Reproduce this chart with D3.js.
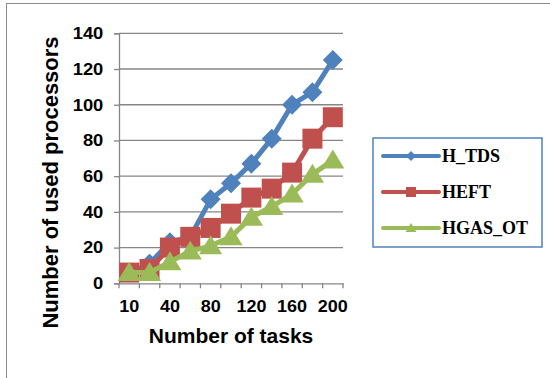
<!DOCTYPE html>
<html><head><meta charset="utf-8">
<script src="https://cdn.jsdelivr.net/npm/d3@7"></script>
<style>body{margin:0;background:#fff}svg{display:block}</style>
</head><body>
<script>
const categories = ["10","20","40","60","80","100","120","140","160","180","200"];
const shownLabels = ["10","40","80","120","160","200"];
const hTDS   = [6, 11, 23, 26, 47, 56, 67, 81, 100, 107, 125];
const heft   = [6, 8, 20, 26, 31, 39, 48, 53, 62, 81, 93];
const hgasOT = [6, 6, 12, 18, 21, 26, 37, 43, 50, 61, 69];
const yTicks = [0, 20, 40, 60, 80, 100, 120, 140];
const seriesNames = ["H_TDS", "HEFT", "HGAS_OT"];
const seriesColors = ["#4F81BD", "#C0504D", "#9BBB59"];
const seriesShapes = ["diamond", "square", "triangle"];
const seriesData = [hTDS, heft, hgasOT];

const W = 550, H = 378;
const svg = d3.select("body").append("svg").attr("width", W).attr("height", H);
svg.append("rect").attr("x", 6.5).attr("y", 3.5).attr("width", 560).attr("height", 400)
  .attr("fill", "#fff").attr("stroke", "#8c8c8c").attr("stroke-width", 1);

const x = d3.scaleBand().domain(categories).range([119, 343]);
const y = d3.scaleLinear().domain([0, 140]).range([283.3, 33.3]);

// gridlines
svg.append("g").selectAll("line").data(yTicks.filter(d => d > 0)).join("line")
  .attr("x1", 119).attr("x2", 343).attr("y1", d => y(d)).attr("y2", d => y(d))
  .attr("stroke", "#868686").attr("stroke-width", 1.3);

// y axis
const yAxis = svg.append("g").attr("transform", "translate(119,0)")
  .call(d3.axisLeft(y).tickValues(yTicks).tickSize(5).tickPadding(10.7));
yAxis.select(".domain").attr("stroke", "#868686").attr("stroke-width", 1.3);
yAxis.selectAll(".tick line").attr("stroke", "#868686").attr("stroke-width", 1.3);
yAxis.selectAll("text").attr("font-family", "Liberation Sans, Arial, sans-serif")
  .attr("font-weight", "bold").attr("font-size", "16.5px").attr("fill", "#000")
  .attr("textLength", d => String(d).length * 10.2).attr("lengthAdjust", "spacingAndGlyphs");

// x axis
const xAxis = svg.append("g").attr("transform", `translate(0,${y(0)})`)
  .call(d3.axisBottom(x).tickSize(0).tickPadding(17)
    .tickFormat(d => shownLabels.includes(d) ? d : ""));
xAxis.select(".domain").attr("stroke", "#868686").attr("stroke-width", 1.3);
xAxis.selectAll("text").attr("font-family", "Liberation Sans, Arial, sans-serif")
  .attr("font-weight", "bold").attr("font-size", "16.5px").attr("fill", "#000")
  .attr("textLength", d => shownLabels.includes(d) ? d.length * 10 : null)
  .attr("lengthAdjust", "spacingAndGlyphs");
// boundary ticks
const bounds = categories.map(c => x(c)).concat([x.range()[1]]);
svg.append("g").selectAll("line").data(bounds).join("line")
  .attr("x1", d => d).attr("x2", d => d).attr("y1", y(0)).attr("y2", y(0) + 5)
  .attr("stroke", "#868686").attr("stroke-width", 1.3);

// axis titles
svg.append("text").attr("x", 231).attr("y", 343).attr("text-anchor", "middle")
  .attr("font-family", "Liberation Sans, Arial, sans-serif").attr("font-weight", "bold")
  .attr("font-size", "21px").text("Number of tasks");
svg.append("text").attr("transform", "translate(58,182.5) rotate(-90)").attr("text-anchor", "middle")
  .attr("font-family", "Liberation Sans, Arial, sans-serif").attr("font-weight", "bold")
  .attr("font-size", "22px").text("Number of used processors");

function markerPath(shape, s) {
  if (shape === "diamond") return `M0,${-s}L${s},0L0,${s}L${-s},0Z`;
  if (shape === "square") return `M${-s},${-s}H${s}V${s}H${-s}Z`;
  return `M0,${-s}L${s*1.1},${s*0.8}L${-s*1.1},${s*0.8}Z`;
}
const cx = d => x(d) + x.bandwidth() / 2;

seriesData.forEach((data, i) => {
  const g = svg.append("g");
  const line = d3.line().x((d, j) => cx(categories[j])).y(d => y(d));
  g.append("path").attr("d", line(data)).attr("fill", "none")
    .attr("stroke", seriesColors[i]).attr("stroke-width", 5).attr("stroke-linejoin", "round");
  const sz = seriesShapes[i] === "diamond" ? 10 : (seriesShapes[i] === "square" ? 10 : 10.5);
  g.selectAll("path.m").data(data).join("path").attr("class", "m")
    .attr("transform", (d, j) => `translate(${cx(categories[j])},${y(d)})`)
    .attr("d", markerPath(seriesShapes[i], sz)).attr("fill", seriesColors[i]);
});

// legend
const lg = svg.append("g");
lg.append("rect").attr("x", 373).attr("y", 138).attr("width", 169).attr("height", 109)
  .attr("fill", "#fff").attr("stroke", "#4F81BD").attr("stroke-width", 1.5);
const ly = [156, 192, 228];
seriesNames.forEach((n, i) => {
  lg.append("line").attr("x1", 383).attr("x2", 439).attr("y1", ly[i]).attr("y2", ly[i])
    .attr("stroke", seriesColors[i]).attr("stroke-width", 4).attr("stroke-linecap", "round");
  lg.append("path").attr("transform", `translate(411,${ly[i]})`)
    .attr("d", markerPath(seriesShapes[i], 5)).attr("fill", seriesColors[i]);
  lg.append("text").attr("x", 442).attr("y", ly[i] + 6)
    .attr("font-family", "Liberation Serif, Times New Roman, serif").attr("font-weight", "bold")
    .attr("font-size", "18px").text(n);
});
</script>
</body></html>
